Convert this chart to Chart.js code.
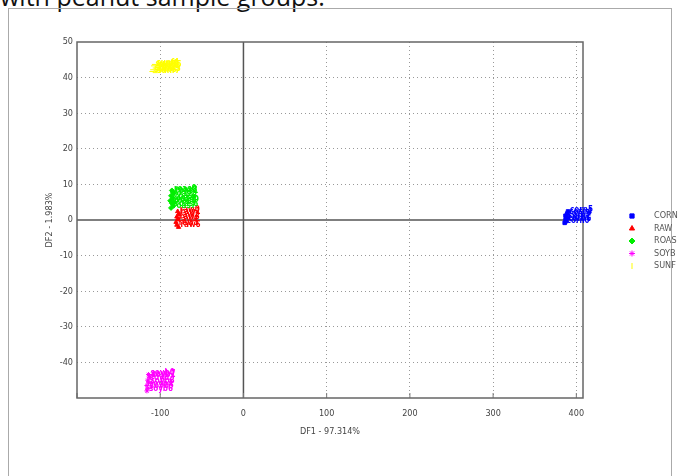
<!DOCTYPE html>
<html>
<head>
<meta charset="utf-8">
<script src="https://cdn.jsdelivr.net/npm/chart.js@4.4.1/dist/chart.umd.min.js"></script>
<style>
  html, body { margin: 0; padding: 0; background: #fff; overflow: hidden; }
  #caption {
    position: absolute; left: 0; top: -16px; white-space: nowrap;
    font: 25px/25px "Open Sans", sans-serif; color: #111;
  }
  #frame {
    position: absolute; left: 8px; top: 8px; width: 664px; height: 480px;
    border: 1px solid #aaa; box-sizing: border-box;
  }
  #wrap { position: absolute; left: 0; top: 0; width: 680px; height: 476px; }
</style>
</head>
<body>
<div id="caption">with peanut sample groups.</div>
<div id="frame"></div>
<div id="wrap"><canvas id="c" width="680" height="476"></canvas></div>
<script>
// Discriminant function scores (DF1, DF2) per sample group
const groups = ["CORN", "RAW", "ROAS", "SOYB", "SUNF"];
const colors = ["#0000ff", "#ff0000", "#00ee00", "#ff00ff", "#ffff00"];
const markers = ["rect", "triangle", "rectRot", "star", "line"];

const cornX = [386, 387, 388, 387, 389, 390, 388];
const cornY = [-0.8, 0.0, 0.6, 1.2, 1.8, 2.4, -0.3];
const rawX = [-79, -78, -80, -79, -81, -80, -78];
const rawY = [2.4, 1.6, 0.9, 0.2, -0.6, -1.4, -2.0];
const roasX = [-86, -84, -87, -85, -88, -86, -84, -87, -85, -83];
const roasY = [8.3, 7.6, 6.8, 6.1, 5.4, 4.7, 4.0, 3.4, 7.9, 5.0];
const soybX = [-114, -113, -115, -114, -116, -115, -116, -113];
const soybY = [-43.4, -44.2, -45.0, -45.7, -46.5, -47.3, -48.0, -43.8];
const sunfX = [-108, -106, -109, -105, -107, -104, -110, -106];
const sunfY = [43.3, 42.7, 42.2, 41.9, 43.7, 43.0, 41.7, 41.4];

const xTicks = [-200, -100, 0, 100, 200, 300, 400];
const yTicks = [-50, -40, -30, -20, -10, 0, 10, 20, 30, 40, 50];
const xTitle = "DF1 - 97.314%";
const yTitle = "DF2 - 1.983%";

const xs = [cornX, rawX, roasX, soybX, sunfX];
const ys = [cornY, rawY, roasY, soybY, sunfY];

const datasets = groups.map((g, i) => ({
  label: g,
  data: xs[i].map((x, k) => ({ x: x, y: ys[i][k], name: g.toLowerCase() + k })),
  backgroundColor: colors[i],
  borderColor: colors[i],
  pointStyle: markers[i],
  pointRadius: 2.5,
  borderWidth: 1
}));

const tickFont = { family: '"Liberation Sans Narrow", "DejaVu Sans Condensed", sans-serif', size: 9 };

// Frame, zero lines, point labels and the legend
const decor = {
  id: 'decor',
  beforeDatasetsDraw(chart) {
    const { ctx, chartArea: a, scales } = chart;
    const x0 = scales.x.getPixelForValue(0);
    const y0 = scales.y.getPixelForValue(0);
    ctx.save();
    ctx.strokeStyle = '#555';
    ctx.lineWidth = 1.5;
    ctx.beginPath();
    ctx.moveTo(x0, a.top); ctx.lineTo(x0, a.bottom);
    ctx.moveTo(a.left, y0); ctx.lineTo(a.right, y0);
    ctx.stroke();
    // short inward tick marks on the bottom axis
    ctx.lineWidth = 1;
    ctx.strokeStyle = '#777';
    xTicks.forEach(v => {
      const px = scales.x.getPixelForValue(v);
      ctx.beginPath(); ctx.moveTo(px, a.bottom); ctx.lineTo(px, a.bottom - 5); ctx.stroke();
    });
    ctx.strokeStyle = '#666';
    ctx.lineWidth = 1.5;
    ctx.strokeRect(a.left, a.top, a.right - a.left, a.bottom - a.top);
    ctx.restore();
  },
  afterDatasetsDraw(chart) {
    const { ctx } = chart;
    ctx.save();
    ctx.font = 'bold 8px "DejaVu Sans Condensed", sans-serif';
    ctx.textBaseline = 'middle';
    chart.data.datasets.forEach((ds, i) => {
      const meta = chart.getDatasetMeta(i);
      ctx.fillStyle = ds.borderColor;
      meta.data.forEach((el, k) => {
        ctx.fillText(ds.data[k].name, el.x + 2, el.y - 2);
      });
    });
    // legend
    const lx = 632, tx = 654, ly0 = 216, step = 12.5;
    ctx.font = '9px "Liberation Sans Narrow", "DejaVu Sans Condensed", sans-serif';
    chart.data.datasets.forEach((ds, i) => {
      const y = ly0 + i * step;
      ctx.fillStyle = ds.backgroundColor;
      ctx.strokeStyle = ds.borderColor;
      ctx.lineWidth = 1;
      Chart.helpers.drawPoint(ctx, { pointStyle: ds.pointStyle, radius: 3, rotation: ds.pointStyle === 'line' ? 90 : 0, borderWidth: 1 }, lx, y);
      ctx.fillStyle = '#555';
      ctx.fillText(ds.label, tx, y);
    });
    ctx.restore();
  }
};

new Chart(document.getElementById('c'), {
  type: 'scatter',
  data: { datasets },
  options: {
    responsive: false,
    animation: false,
    layout: { padding: { left: 44, top: 42, right: 97, bottom: 39 } },
    plugins: { legend: { display: false }, tooltip: { enabled: false } },
    scales: {
      x: {
        type: 'linear', min: -200, max: 408,
        afterBuildTicks: s => { s.ticks = xTicks.map(v => ({ value: v })); },
        afterFit: s => { s.height = 39; },
        border: { display: false, dash: [1, 3] },
        grid: {
          drawTicks: false,
          color: c => (c.tick && (c.tick.value === 0 || c.tick.value === -200)) ? 'rgba(0,0,0,0)' : '#999'
        },
        ticks: {
          padding: 10, color: '#444', font: tickFont,
          callback: v => (v === -200 ? '' : v)
        },
        title: { display: true, text: xTitle, color: '#444', font: tickFont, padding: 0 }
      },
      y: {
        type: 'linear', min: -50, max: 50,
        afterBuildTicks: s => { s.ticks = yTicks.map(v => ({ value: v })); },
        afterFit: s => { s.width = 33; },
        border: { display: false, dash: [1, 3] },
        grid: {
          drawTicks: false,
          color: c => (c.tick && (c.tick.value === 0 || c.tick.value === 50 || c.tick.value === -50)) ? 'rgba(0,0,0,0)' : '#999'
        },
        ticks: {
          padding: 4, color: '#444', font: tickFont,
          callback: v => (v === -50 ? '' : v)
        },
        title: { display: true, text: yTitle, color: '#444', font: tickFont, padding: 0 }
      }
    }
  },
  plugins: [decor]
});
</script>
</body>
</html>
